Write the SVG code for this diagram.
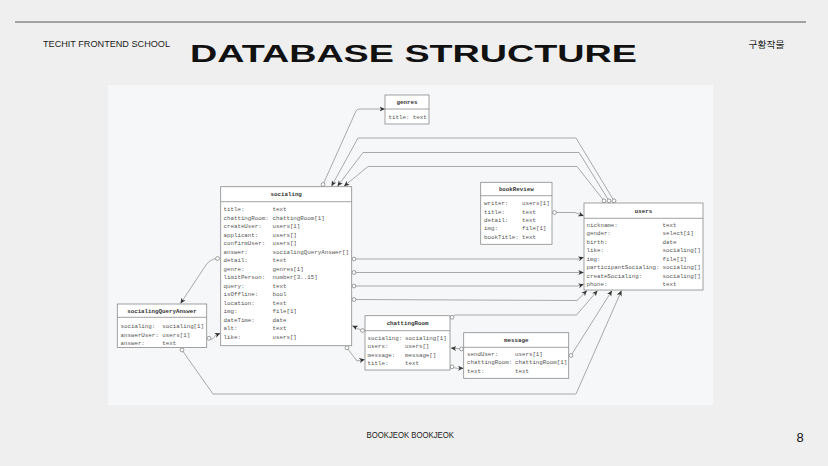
<svg xmlns="http://www.w3.org/2000/svg" width="828" height="466" viewBox="0 0 828 466">
<style>
.box{fill:#fff;stroke:#8a8a8a;stroke-width:0.8}
.div{stroke:#8a8a8a;stroke-width:0.8}
.h{font-family:"Liberation Mono","DejaVu Sans Mono",monospace;font-size:5.8px;font-weight:bold;fill:#333;text-anchor:middle}
.t{font-family:"Liberation Mono","DejaVu Sans Mono",monospace;font-size:5.8px;fill:#555}
.c{fill:none;stroke:#8f8f8f;stroke-width:0.75;marker-start:url(#o);marker-end:url(#a)}
</style>
<defs>
<marker id="o" markerUnits="userSpaceOnUse" markerWidth="6" markerHeight="6" refX="3" refY="3" viewBox="0 0 6 6"><circle cx="3" cy="3" r="1.9" fill="#fff" stroke="#777" stroke-width="0.7"/></marker>
<marker id="a" markerUnits="userSpaceOnUse" markerWidth="6" markerHeight="6" refX="5.5" refY="3" orient="auto" viewBox="0 0 6 6"><path d="M0,0.5 L5.5,3 L0,5.5 L1.6,3 z" fill="#333"/></marker>
</defs>
<rect x="0" y="0" width="828" height="466" fill="#efefef"/>
<line x1="15" y1="22" x2="806" y2="22" stroke="#555" stroke-width="1"/>
<text x="43" y="47" font-family="Liberation Sans, Arial, sans-serif" font-size="9.5" fill="#222" textLength="127" lengthAdjust="spacingAndGlyphs">TECHIT FRONTEND SCHOOL</text>
<text x="190" y="62" font-family="Liberation Sans, Arial, sans-serif" font-weight="bold" font-size="23" fill="#111" textLength="447" lengthAdjust="spacingAndGlyphs">DATABASE STRUCTURE</text>
<text x="748.5" y="47.5" font-family="Noto Sans CJK KR, sans-serif" font-size="9.3" fill="#222" textLength="36" lengthAdjust="spacingAndGlyphs">구황작물</text>
<text x="366.5" y="438" font-family="Liberation Sans, Arial, sans-serif" font-size="8.8" fill="#222" textLength="87.5" lengthAdjust="spacingAndGlyphs">BOOKJEOK BOOKJEOK</text>
<text x="796.5" y="442" font-family="Liberation Sans, Arial, sans-serif" font-size="13" fill="#111">8</text>
<rect x="108" y="85" width="605" height="320" fill="#f6f7f8"/>

<g id="connectors">
<path class="c" d="M323,184.5 L356,111 Q357,109 359.5,109 L385,109"/>
<path class="c" d="M614,200.8 L576,138 L358,138 L331.5,186.2"/>
<path class="c" d="M609,200.8 L579,152.5 L363,152.5 L337.5,186.2"/>
<path class="c" d="M604,200.8 L577,166.5 L368,166.5 L344,186.2"/>
<path class="c" d="M554.5,212.5 L575,212.5 L583.8,216"/>
<path class="c" d="M354,259 L578,259 L583.8,257.3"/>
<path class="c" d="M354,272.5 L583.8,272.5"/>
<path class="c" d="M354,286 L578,286 L583.8,284.2"/>
<path class="c" d="M354,299.5 L577,300.5 L587,290.6"/>
<path class="c" d="M452,317.3 L455,315 L576.5,315 L597.5,290.6"/>
<path class="c" d="M571,355.5 L612,290.6"/>
<path class="c" d="M182,350 L213,394 L576,394 L621.5,290.6"/>
<path class="c" d="M217.5,258.5 C212,259 209,261 206,265 L180.5,303.5"/>
<path class="c" d="M209,338.3 C212.5,341 214,337 216,335 L220.3,333.3"/>
<path class="c" d="M362.5,330.5 C359,329.5 356,327.5 352.3,325.8"/>
<path class="c" d="M347,347.8 L357,361 L364.8,359.5"/>
<path class="c" d="M461.5,349 L450.8,348"/>
<path class="c" d="M452,366.8 C456,369 459,368.3 463.5,368.3"/>
</g>

<g id="genres">
<rect class="box" x="385" y="95" width="44" height="29"/>
<line class="div" x1="385" y1="109" x2="429" y2="109"/>
<text class="h" x="407" y="104">genres</text>
<text class="t" x="388.5" y="119">title: text</text>
</g>

<g id="socialing">
<rect class="box" x="220.7" y="186.7" width="131" height="159"/>
<line class="div" x1="220.7" y1="201.7" x2="351.7" y2="201.7"/>
<text class="h" x="286.2" y="196">socialing</text>
<text class="t" x="223.5" y="211">title:</text><text class="t" x="272.5" y="211">text</text>
<text class="t" x="223.5" y="219.5">chattingRoom:</text><text class="t" x="272.5" y="219.5">chattingRoom[1]</text>
<text class="t" x="223.5" y="228.1">createUser:</text><text class="t" x="272.5" y="228.1">users[1]</text>
<text class="t" x="223.5" y="236.6">applicant:</text><text class="t" x="272.5" y="236.6">users[]</text>
<text class="t" x="223.5" y="245.1">confirmUser:</text><text class="t" x="272.5" y="245.1">users[]</text>
<text class="t" x="223.5" y="253.7">answer:</text><text class="t" x="272.5" y="253.7">socialingQueryAnswer[]</text>
<text class="t" x="223.5" y="262.2">detail:</text><text class="t" x="272.5" y="262.2">text</text>
<text class="t" x="223.5" y="270.7">genre:</text><text class="t" x="272.5" y="270.7">genres[1]</text>
<text class="t" x="223.5" y="279.2">limitPerson:</text><text class="t" x="272.5" y="279.2">number[3..15]</text>
<text class="t" x="223.5" y="287.8">query:</text><text class="t" x="272.5" y="287.8">text</text>
<text class="t" x="223.5" y="296.3">isOffline:</text><text class="t" x="272.5" y="296.3">bool</text>
<text class="t" x="223.5" y="304.8">location:</text><text class="t" x="272.5" y="304.8">text</text>
<text class="t" x="223.5" y="313.4">img:</text><text class="t" x="272.5" y="313.4">file[1]</text>
<text class="t" x="223.5" y="321.9">dateTime:</text><text class="t" x="272.5" y="321.9">date</text>
<text class="t" x="223.5" y="330.4">alt:</text><text class="t" x="272.5" y="330.4">text</text>
<text class="t" x="223.5" y="339">like:</text><text class="t" x="272.5" y="339">users[]</text>
</g>

<g id="socialingQueryAnswer">
<rect class="box" x="117.3" y="304" width="89.4" height="43.5"/>
<line class="div" x1="117.3" y1="317.3" x2="206.7" y2="317.3"/>
<text class="h" x="162" y="312.8">socialingQueryAnswer</text>
<text class="t" x="120.5" y="328.4">socialing:</text><text class="t" x="162.3" y="328.4">socialing[1]</text>
<text class="t" x="120.5" y="336.9">answerUser:</text><text class="t" x="162.3" y="336.9">users[1]</text>
<text class="t" x="120.5" y="345.3">answer:</text><text class="t" x="162.3" y="345.3">text</text>
</g>

<g id="chattingRoom">
<rect class="box" x="365" y="315.7" width="85" height="54.3"/>
<line class="div" x1="365" y1="330.7" x2="450" y2="330.7"/>
<text class="h" x="407.5" y="325.2">chattingRoom</text>
<text class="t" x="367.5" y="339.7">socialing:</text><text class="t" x="405" y="339.7">socialing[1]</text>
<text class="t" x="367.5" y="348.2">users:</text><text class="t" x="405" y="348.2">users[]</text>
<text class="t" x="367.5" y="356.6">message:</text><text class="t" x="405" y="356.6">message[]</text>
<text class="t" x="367.5" y="365">title:</text><text class="t" x="405" y="365">text</text>
</g>

<g id="message">
<rect class="box" x="463.7" y="332.7" width="105" height="45.6"/>
<line class="div" x1="463.7" y1="347.3" x2="568.7" y2="347.3"/>
<text class="h" x="516.2" y="342">message</text>
<text class="t" x="467" y="355.7">sendUser:</text><text class="t" x="515" y="355.7">users[1]</text>
<text class="t" x="467" y="364.3">chattingRoom:</text><text class="t" x="515" y="364.3">chattingRoom[1]</text>
<text class="t" x="467" y="373">text:</text><text class="t" x="515" y="373">text</text>
</g>

<g id="bookReview">
<rect class="box" x="480.7" y="182.3" width="71.3" height="62"/>
<line class="div" x1="480.7" y1="195.7" x2="552" y2="195.7"/>
<text class="h" x="516.3" y="191">bookReview</text>
<text class="t" x="484" y="205.3">writer:</text><text class="t" x="522" y="205.3">users[1]</text>
<text class="t" x="484" y="213.5">title:</text><text class="t" x="522" y="213.5">text</text>
<text class="t" x="484" y="221.8">detail:</text><text class="t" x="522" y="221.8">text</text>
<text class="t" x="484" y="230.1">img:</text><text class="t" x="522" y="230.1">file[1]</text>
<text class="t" x="484" y="238.6">bookTitle:</text><text class="t" x="522" y="238.6">text</text>
</g>

<g id="users">
<rect class="box" x="584" y="203" width="119" height="87"/>
<line class="div" x1="584" y1="218.3" x2="703" y2="218.3"/>
<text class="h" x="643.5" y="212.5">users</text>
<text class="t" x="586.5" y="226.7">nickname:</text><text class="t" x="662.5" y="226.7">text</text>
<text class="t" x="586.5" y="235.3">gender:</text><text class="t" x="662.5" y="235.3">select[1]</text>
<text class="t" x="586.5" y="243.7">birth:</text><text class="t" x="662.5" y="243.7">date</text>
<text class="t" x="586.5" y="252.3">like:</text><text class="t" x="662.5" y="252.3">socialing[]</text>
<text class="t" x="586.5" y="260.7">img:</text><text class="t" x="662.5" y="260.7">file[1]</text>
<text class="t" x="586.5" y="269">participantSocialing:</text><text class="t" x="662.5" y="269">socialing[]</text>
<text class="t" x="586.5" y="277.7">createSocialing:</text><text class="t" x="662.5" y="277.7">socialing[]</text>
<text class="t" x="586.5" y="286.3">phone:</text><text class="t" x="662.5" y="286.3">text</text>
</g>
</svg>
